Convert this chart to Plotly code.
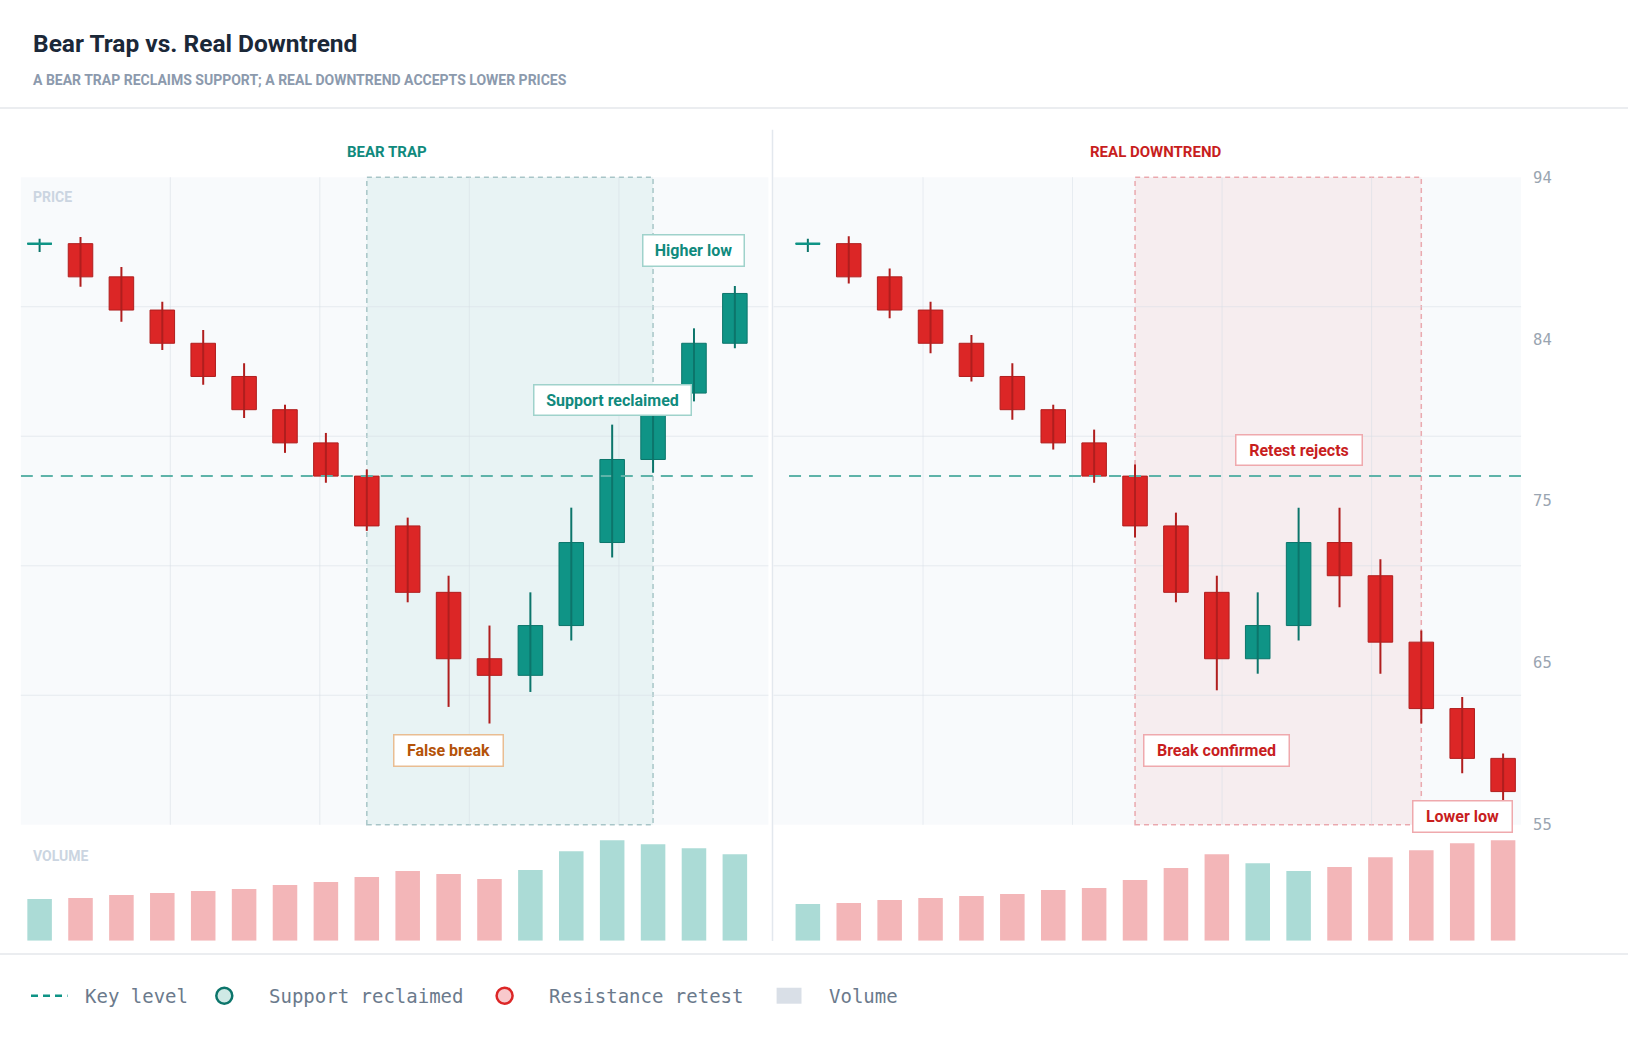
import plotly.graph_objects as go

W, H = 1628, 1042

# ---------------- DATA ----------------
candle_index = list(range(18))

trap_open = [90, 90, 88, 86, 84, 82, 80, 78, 76, 73, 69, 65, 64, 67, 72, 77, 81, 84]
trap_close = [90, 88, 86, 84, 82, 80, 78, 76, 73, 69, 65, 64, 67, 72, 77, 80.8, 84, 87]
trap_high = [90.3, 90.4, 88.6, 86.5, 84.8, 82.8, 80.3, 78.6, 76.4, 73.5, 70.0, 67.0, 69.0, 74.1, 79.1, 81.2, 84.9, 87.45]
trap_low = [89.5, 87.4, 85.3, 83.6, 81.5, 79.5, 77.4, 75.6, 72.7, 68.4, 62.1, 61.1, 63.0, 66.1, 71.1, 76.2, 80.5, 83.7]
trap_volume = [420, 430, 460, 480, 500, 520, 560, 590, 640, 700, 670, 620, 710, 900, 1010, 970, 930, 870]

down_open = [90, 90, 88, 86, 84, 82, 80, 78, 76, 73, 69, 65, 67, 72, 70, 66, 62, 59]
down_close = [90, 88, 86, 84, 82, 80, 78, 76, 73, 69, 65, 67, 72, 70, 66, 62, 59, 57]
down_high = [90.3, 90.44, 88.5, 86.5, 84.5, 82.8, 80.3, 78.8, 76.7, 73.8, 70.0, 69.0, 74.1, 74.1, 71.0, 66.7, 62.7, 59.3]
down_low = [89.5, 87.6, 85.5, 83.4, 81.7, 79.4, 77.6, 75.6, 72.3, 68.4, 63.1, 64.1, 66.1, 68.1, 64.1, 61.1, 58.1, 56.5]
down_volume = [370, 380, 410, 430, 450, 470, 510, 530, 610, 730, 870, 780, 700, 740, 840, 910, 980, 1010]

key_level = 76
price_range = [55, 94]
price_tickvals = [55, 64.75, 74.5, 84.25, 94]
price_ticktext = ["55", "65", "75", "84", "94"]
volume_max = 1090

trap_zone = [8, 15]
down_zone = [8, 15]

trap_notes = [("False break", 10, 59.5, "amber"),
              ("Support reclaimed", 14, 80.6, "teal"),
              ("Higher low", 16, 89.6, "teal")]
down_notes = [("Retest rejects", 12, 77.6, "red"),
              ("Break confirmed", 10, 59.5, "red"),
              ("Lower low", 16, 55.5, "red")]

title_text = "Bear Trap vs. Real Downtrend"
subtitle_text = "A BEAR TRAP RECLAIMS SUPPORT; A REAL DOWNTREND ACCEPTS LOWER PRICES"
panel_titles = ["BEAR TRAP", "REAL DOWNTREND"]
legend_labels = ["Key level", "Support reclaimed", "Resistance retest", "Volume"]

# ---------------- STYLE ----------------
TEAL = "#0f9486"
TEAL_DARK = "#0c756b"
TEAL_TEXT = "#108a7d"
RED = "#dc2626"
RED_DARK = "#b01e1e"
RED_TEXT = "#c81e1e"
AMBER_TEXT = "#b45309"
VOL_TEAL = "#abdbd6"
VOL_RED = "#f3b6b8"
COND = "Roboto, 'DejaVu Sans Condensed', sans-serif"
MONO = "'DejaVu Sans Mono', 'Liberation Mono', monospace"

note_style = {
    "teal": dict(text=TEAL_TEXT, border="#9fd2cb"),
    "red": dict(text=RED_TEXT, border="#efa9ad"),
    "amber": dict(text=AMBER_TEXT, border="#e9bd92"),
}
note_box = {"False break": (111, 33), "Support reclaimed": (159, 32), "Higher low": (103, 33),
            "Retest rejects": (128, 32), "Break confirmed": (147, 33), "Lower low": (101, 33)}


def px_x(x):
    return x / W


def px_y(y):
    # compensate for the vertical transform observed in the rendered page
    ys = (y - 7.9) / 0.9849
    return 1 - ys / H


left_dom = [px_x(20.8), px_x(768.4)]
right_dom = [px_x(773.5), px_x(1521.1)]
price_dom = [px_y(825.5), px_y(176.5)]
vol_dom = [px_y(941.7), px_y(833)]
left_xrange = [-0.46, 17.82]
right_xrange = [-0.84, 17.44]
key_span = [-0.46, 17.44]

fig = go.Figure()
shapes = []
annotations = []


def add_panel(n, opens, closes, highs, lows, vols, zone, zone_fill, zone_line):
    xa = "x" if n == 1 else f"x{n}"
    ya = "y" if n == 1 else f"y{n}"
    vn = n + 2
    xv, yv = f"x{vn}", f"y{vn}"
    up = [c >= o for o, c in zip(opens, closes)]

    shapes.append(dict(type="rect", xref=f"{xa} domain", yref=f"{ya} domain", x0=0, x1=1, y0=0, y1=1,
                       fillcolor="#f8fafc", line=dict(width=0), layer="below"))
    shapes.append(dict(type="rect", xref=xa, yref=f"{ya} domain", x0=zone[0], x1=zone[1], y0=0, y1=1,
                       fillcolor=zone_fill, line=dict(color=zone_line, width=1.5, dash="5px,4px"),
                       layer="below"))
    for f in [0.2, 0.4, 0.6, 0.8]:
        shapes.append(dict(type="line", xref=f"{xa} domain", yref=f"{ya} domain", x0=f, x1=f, y0=0, y1=1,
                           line=dict(color="rgba(215,222,230,0.55)", width=1), layer="below"))
        shapes.append(dict(type="line", xref=f"{xa} domain", yref=f"{ya} domain", x0=0, x1=1, y0=f, y1=f,
                           line=dict(color="rgba(215,222,230,0.55)", width=1), layer="below"))

    fig.add_trace(go.Scatter(x=key_span, y=[key_level, key_level], mode="lines",
                             line=dict(color="#5eb3a9", width=2, dash="12px,8px"),
                             xaxis=xa, yaxis=ya, hoverinfo="skip", showlegend=False))

    for direction, col in [(True, TEAL_DARK), (False, RED_DARK)]:
        xs, ys = [], []
        for i in candle_index:
            if up[i] == direction:
                xs += [i, i, None]
                ys += [lows[i], highs[i], None]
        fig.add_trace(go.Scatter(x=xs, y=ys, mode="lines", line=dict(color=col, width=2),
                                 xaxis=xa, yaxis=ya, hoverinfo="skip", showlegend=False))
    fig.add_trace(go.Bar(x=candle_index, y=[abs(c - o) for o, c in zip(opens, closes)],
                         base=[min(o, c) for o, c in zip(opens, closes)], width=0.6,
                         marker=dict(color=[TEAL if u else RED for u in up],
                                     line=dict(color=[TEAL_DARK if u else RED_DARK for u in up], width=1)),
                         xaxis=xa, yaxis=ya, hoverinfo="skip", showlegend=False))
    dx, dy = [], []
    for i in candle_index:
        if opens[i] == closes[i]:
            dx += [i - 0.3, i + 0.3, None]
            dy += [opens[i], opens[i], None]
    fig.add_trace(go.Scatter(x=dx, y=dy, mode="lines", line=dict(color=TEAL, width=2.5),
                             xaxis=xa, yaxis=ya, hoverinfo="skip", showlegend=False))
    fig.add_trace(go.Bar(x=candle_index, y=vols, width=0.6,
                         marker=dict(color=[VOL_TEAL if u else VOL_RED for u in up], line=dict(width=0)),
                         xaxis=xv, yaxis=yv, hoverinfo="skip", showlegend=False))


add_panel(1, trap_open, trap_close, trap_high, trap_low, trap_volume, trap_zone,
          "rgba(13,148,136,0.065)", "rgba(120,165,168,0.6)")
add_panel(2, down_open, down_close, down_high, down_low, down_volume, down_zone,
          "rgba(220,38,38,0.06)", "rgba(225,120,128,0.6)")

for notes, xa, ya in [(trap_notes, "x", "y"), (down_notes, "x2", "y2")]:
    for text, xi, yv, kind in notes:
        st = note_style[kind]
        bw, bh = note_box[text]
        annotations.append(dict(text=text, x=xi, y=yv, xref=xa, yref=ya, showarrow=False,
                                xanchor="center", yanchor="middle",
                                font=dict(family=COND, size=16, color=st["text"], weight="bold"),
                                bgcolor="white", bordercolor=st["border"], borderwidth=1.5, borderpad=0,
                                width=bw - 3, height=bh - 3))

for t, xa, col in [(panel_titles[0], "x", TEAL_TEXT), (panel_titles[1], "x2", RED_TEXT)]:
    annotations.append(dict(text=t, x=8.5, xref=xa, y=px_y(151.6), yref="paper", showarrow=False,
                            xanchor="center", yanchor="middle",
                            font=dict(family=COND, size=15, color=col, weight="bold")))

annotations.append(dict(text=title_text, x=px_x(31), y=px_y(42), xref="paper", yref="paper",
                        showarrow=False, xanchor="left", yanchor="middle",
                        font=dict(family=COND, size=24.5, color="#1b2838", weight="bold")))
annotations.append(dict(text=subtitle_text, x=px_x(31), y=px_y(79), xref="paper", yref="paper",
                        showarrow=False, xanchor="left", yanchor="middle",
                        font=dict(family=COND, size=14, color="#8c9aad", weight="bold")))
annotations.append(dict(text="PRICE", x=px_x(31), y=px_y(196), xref="paper", yref="paper",
                        showarrow=False, xanchor="left", yanchor="middle",
                        font=dict(family=COND, size=14, color="#cbd5e1", weight="bold")))
annotations.append(dict(text="VOLUME", x=px_x(31), y=px_y(857), xref="paper", yref="paper",
                        showarrow=False, xanchor="left", yanchor="middle",
                        font=dict(family=COND, size=14, color="#cbd5e1", weight="bold")))

shapes.append(dict(type="line", xref="paper", yref="paper", x0=0, x1=1, y0=px_y(107), y1=px_y(107),
                   line=dict(color="#e5e7eb", width=1.5)))
shapes.append(dict(type="line", xref="paper", yref="paper", x0=0, x1=1, y0=px_y(955), y1=px_y(955),
                   line=dict(color="#e5e7eb", width=1.5)))
shapes.append(dict(type="line", xref="paper", yref="paper", x0=px_x(772.5), x1=px_x(772.5),
                   y0=px_y(129), y1=px_y(942), line=dict(color="#e3e8ee", width=1.5)))

ly = 996.8
shapes.append(dict(type="line", xref="paper", yref="paper", x0=px_x(31), x1=px_x(67.5),
                   y0=px_y(ly), y1=px_y(ly), line=dict(color=TEAL, width=2.5, dash="7px,5px")))
shapes.append(dict(type="circle", xref="paper", yref="paper", x0=px_x(224.3 - 8), x1=px_x(224.3 + 8),
                   y0=px_y(ly + 8), y1=px_y(ly - 8), fillcolor="#cfe9e5",
                   line=dict(color=TEAL_DARK, width=2.5)))
shapes.append(dict(type="circle", xref="paper", yref="paper", x0=px_x(504.6 - 8), x1=px_x(504.6 + 8),
                   y0=px_y(ly + 8), y1=px_y(ly - 8), fillcolor="#f8c9cc",
                   line=dict(color=RED, width=2.5)))
shapes.append(dict(type="rect", xref="paper", yref="paper", x0=px_x(776.6), x1=px_x(801.5),
                   y0=px_y(ly + 8), y1=px_y(ly - 8), fillcolor="#d9dfe7", line=dict(width=0)))
for lab, lx in zip(legend_labels, [83, 266.8, 547.2, 826.5]):
    annotations.append(dict(text=lab, x=px_x(lx), y=px_y(ly), xref="paper", yref="paper",
                            showarrow=False, xanchor="left", yanchor="middle",
                            font=dict(family=MONO, size=19, color="#6b7a8c")))

axis_common = dict(showgrid=False, zeroline=False, showline=False, fixedrange=True)

fig.update_layout(
    width=W, height=H, autosize=False,
    margin=dict(l=0, r=0, t=0, b=0),
    paper_bgcolor="white", plot_bgcolor="white",
    showlegend=False,
    xaxis=dict(domain=left_dom, range=left_xrange, anchor="y", showticklabels=False, **axis_common),
    yaxis=dict(domain=price_dom, range=price_range, anchor="x", showticklabels=False, **axis_common),
    xaxis2=dict(domain=right_dom, range=right_xrange, anchor="y2", showticklabels=False, **axis_common),
    yaxis2=dict(domain=price_dom, range=price_range, anchor="x2", side="right",
                tickvals=price_tickvals, ticktext=price_ticktext, ticks="", ticklabelstandoff=11,
                tickfont=dict(family=MONO, size=15.5, color="#9aa5b1"), **axis_common),
    xaxis3=dict(domain=left_dom, range=left_xrange, anchor="y3", showticklabels=False, **axis_common),
    yaxis3=dict(domain=vol_dom, range=[0, volume_max], anchor="x3", showticklabels=False, **axis_common),
    xaxis4=dict(domain=right_dom, range=right_xrange, anchor="y4", showticklabels=False, **axis_common),
    yaxis4=dict(domain=vol_dom, range=[0, volume_max], anchor="x4", showticklabels=False, **axis_common),
    shapes=shapes,
    annotations=annotations,
)

fig.write_html("out.html")
